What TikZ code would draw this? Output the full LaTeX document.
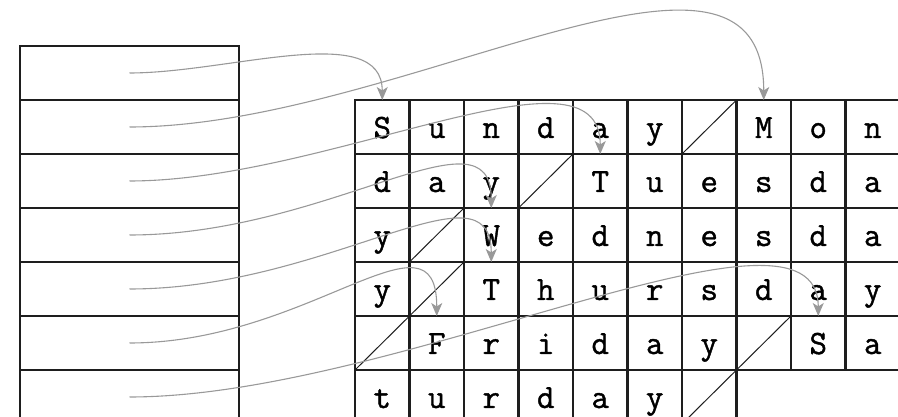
\documentclass[tikz,border=0pt]{standalone}
\usepackage{fontspec}
\newfontfamily\cellfont{Latin Modern Mono}[FakeBold=1.2]
\usetikzlibrary{arrows.meta}
\definecolor{linecol}{HTML}{1E1E1E}
\definecolor{ptrcol}{HTML}{999999}
\tikzset{
  stackcell/.style={draw=linecol, line width=2.8pt, minimum width=219pt, minimum height=54pt, inner sep=0pt, outer sep=0pt},
  cell/.style={draw=linecol, line width=2.5pt, minimum width=54.5pt, minimum height=54pt, inner sep=0pt, outer sep=0pt,
    font=\fontsize{34}{40}\selectfont\cellfont, text height=22pt, text depth=0pt},
  diag/.style={draw=linecol, line width=1pt},
  ptr/.style={draw=ptrcol, line width=1.1pt, -{Stealth[length=13pt,width=11pt,inset=3.5pt]}}
}
\def\slashmark{/}
\begin{document}
\begin{tikzpicture}[x=1pt,y=1pt]
\useasboundingbox (0,0) rectangle (898,417);
\begin{scope}
\clip (0,0) rectangle (898,417);
% stack
\foreach \k in {1,...,7}{
  \node[stackcell] (s\k) at (129.5, {417-73-54*(\k-1)}) {};
}
% grid
\foreach \row [count=\r] in {{S,u,n,d,a,y,/,M,o,n},{d,a,y,/,T,u,e,s,d,a},{y,/,W,e,d,n,e,s,d,a},{y,/,T,h,u,r,s,d,a,y},{/,F,r,i,d,a,y,/,S,a},{t,u,r,d,a,y,/}}{
  \foreach \ch [count=\c] in \row {
    \ifx\ch\slashmark
      \node[cell] (c-\r-\c) at ({382.25+54.5*(\c-1)}, {417-127-54*(\r-1)}) {};
      \draw[diag] (c-\r-\c.south west) -- (c-\r-\c.north east);
    \else
      \node[cell] (c-\r-\c) at ({382.25+54.5*(\c-1)}, {417-127-54*(\r-1)}) {\ch};
    \fi
  }
}
% pointers
\draw[ptr] (s1.center) .. controls +(100,0) and +(0,80) .. (c-1-1.north);
\draw[ptr] (s2.center) .. controls +(270,0) and +(0,210) .. (c-1-8.north);
\draw[ptr] (s3.center) .. controls +(200,0) and +(0,120) .. (c-2-5.north);
\draw[ptr] (s4.center) .. controls +(200,0) and +(0,105) .. (c-3-3.north);
\draw[ptr] (s5.center) .. controls +(200,0) and +(0,105) .. (c-4-3.north);
\draw[ptr] (s6.center) .. controls +(180,0) and +(0,115) .. (c-5-2.north);
\draw[ptr] (s7.center) .. controls +(270,0) and +(0,140) .. (c-5-9.north);
\end{scope}
\end{tikzpicture}
\end{document}
